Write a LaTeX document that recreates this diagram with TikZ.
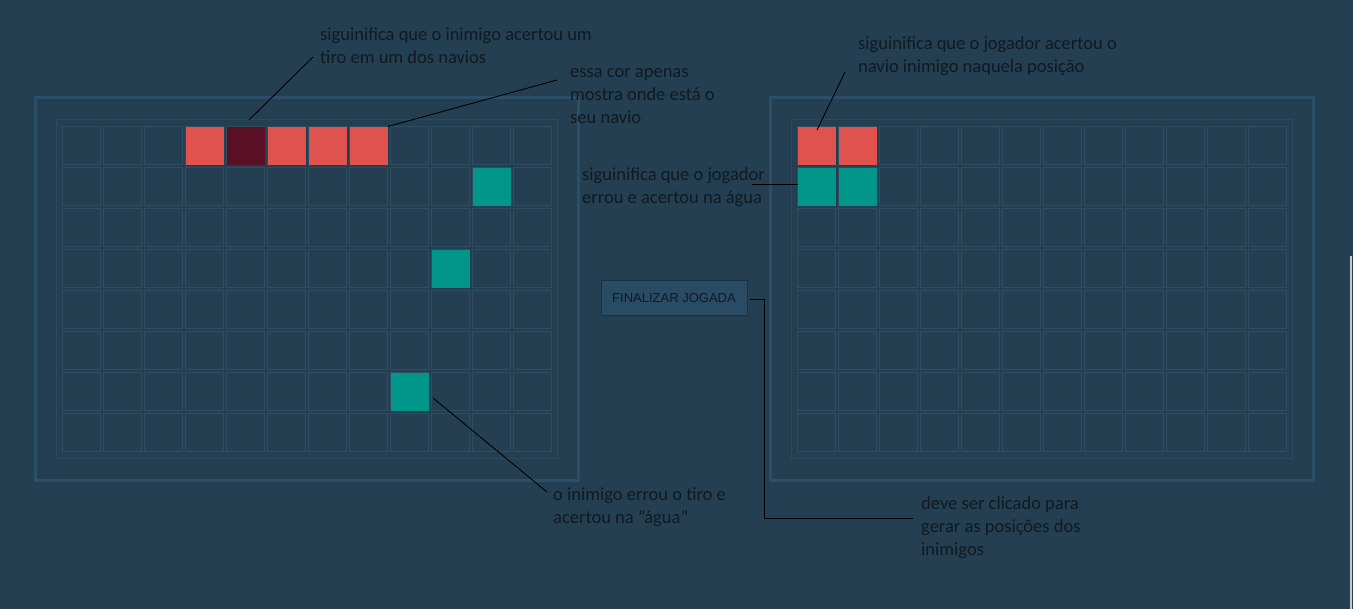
\documentclass[tikz,border=0pt]{standalone}
\usepackage{fontspec}
\setmainfont{Carlito}
\newfontfamily\btnfont{Liberation Sans}
\definecolor{bg}{HTML}{243F52}
\definecolor{frameC}{HTML}{2C4F69}
\definecolor{innerC}{HTML}{2B4A60}
\definecolor{cellC}{HTML}{2E4C62}
\definecolor{hitC}{HTML}{E0524E}
\definecolor{sunkC}{HTML}{5A1024}
\definecolor{waterC}{HTML}{00968A}
\definecolor{btnC}{HTML}{2A4B64}
\definecolor{btnB}{HTML}{1B3243}
\definecolor{txtC}{HTML}{0F1A22}
\definecolor{edgeC}{HTML}{C8C8C8}
\tikzset{
  outerframe/.style={draw=frameC, line width=3pt},
  innerframe/.style={draw=innerC, line width=1pt},
  gridcell/.style={draw=cellC, line width=1pt},
  mark cell/.style={fill=#1, draw=none, minimum size=38pt, inner sep=0pt, anchor=north west},
  note/.style={font=\fontsize{18.5}{23}\selectfont, text=txtC, align=left, inner sep=0pt, anchor=base west},
  conn/.style={draw=black, line width=0.9pt},
  btnstyle/.style={fill=btnC, draw=btnB, line width=1pt, minimum width=146pt, minimum height=35pt, inner sep=0pt,
    font=\btnfont\fontsize{13}{15}\selectfont, text=txtC}
}
\begin{document}
\begin{tikzpicture}[x=1pt, y=-1pt]
\fill[bg] (0,0) rectangle (1353,609);
\useasboundingbox (0,0) rectangle (1353,609);
% boards
\foreach \ox in {0,735}{
  \draw[outerframe] (35.5+\ox,97.5) rectangle (578.5+\ox,480.5);
  \draw[innerframe] (56.5+\ox,119.5) rectangle (557.5+\ox,458.5);
  \foreach \i in {0,...,11}{
    \foreach \j in {0,...,7}{
      \draw[gridcell] ({62.5+\ox+41*\i},{126.5+41*\j}) rectangle ++(38,38);
    }
  }
}
% left board marks
\node[mark cell=hitC] (L1) at (185.5,126.5) {};
\node[mark cell=sunkC] (L2) at (226.5,126.5) {};
\node[mark cell=hitC] (L3) at (267.5,126.5) {};
\node[mark cell=hitC] (L4) at (308.5,126.5) {};
\node[mark cell=hitC] (L5) at (349.5,126.5) {};
\node[mark cell=waterC] (W1) at (472.5,167.5) {};
\node[mark cell=waterC] (W2) at (431.5,249.5) {};
\node[mark cell=waterC] (W3) at (390.5,372.5) {};
% right board marks
\node[mark cell=hitC] (R1) at (797.5,126.5) {};
\node[mark cell=hitC] (R2) at (838.5,126.5) {};
\node[mark cell=waterC] (R3) at (797.5,167.5) {};
\node[mark cell=waterC] (R4) at (838.5,167.5) {};
% button
\node[btnstyle] (btn) at (674,298.5) {FINALIZAR JOGADA};
% notes (anchor = baseline of last line)
\node[note] (nA) at (320,64) {siguinifica que o inimigo acertou um\\tiro em um dos navios};
\node[note] (nB) at (570,124) {essa cor apenas\\mostra onde está o\\seu navio};
\node[note] (nC) at (858,73) {siguinifica que o jogador acertou o\\navio inimigo naquela posição};
\node[note] (nD) at (582,204) {siguinifica que o jogador\\errou e acertou na água};
\node[note] (nE) at (553,524) {o inimigo errou o tiro e\\acertou na "água"};
\node[note] (nF) at (921,555) {deve ser clicado para\\gerar as posições dos\\inimigos};
% connector ends
\coordinate (a1) at (249,120);
\coordinate (a2) at (313,57);
\coordinate (b2) at (557,80);
\coordinate (c1) at (433,398);
\coordinate (c2) at (547,492);
\coordinate (d1) at (817,130);
\coordinate (d2) at (845,72);
\coordinate (e1) at (752,184);
\coordinate (f1) at (750,299);
\coordinate (f2) at (764,299);
\coordinate (f3) at (913,518);
% connectors
\draw[conn] (a1) -- (a2);
\draw[conn] (L5.north east) -- (b2);
\draw[conn] (c1) -- (c2);
\draw[conn] (d1) -- (d2);
\draw[conn] (e1) -- (R3.west |- e1);
\draw[conn] (f1) -- (f2) |- (f3);
% screenshot edge
\draw[draw=edgeC, line width=2pt] (1350.5,256) -- (1350.5,609);
\end{tikzpicture}
\end{document}
